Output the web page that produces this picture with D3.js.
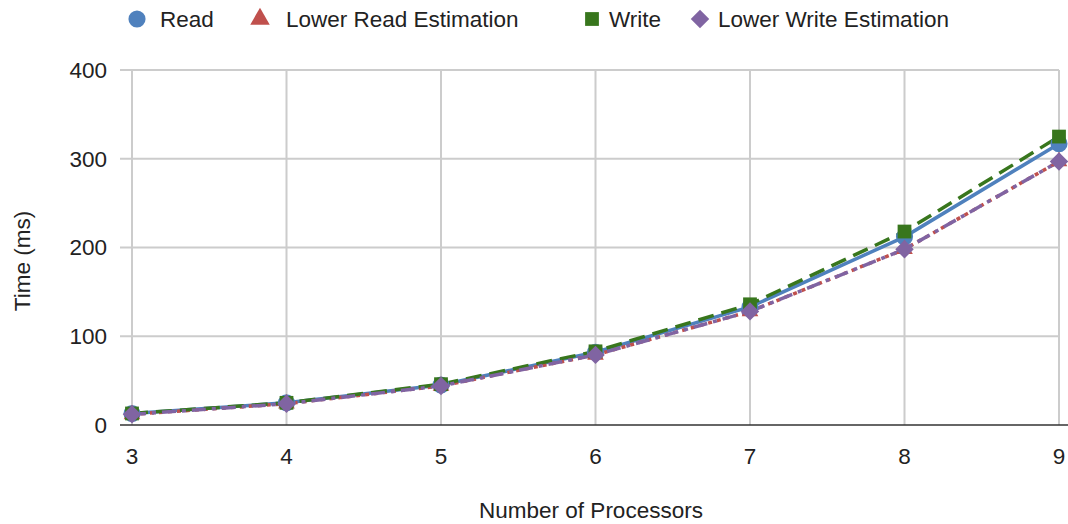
<!DOCTYPE html>
<html>
<head>
<meta charset="utf-8">
<script src="https://cdn.jsdelivr.net/npm/d3@7"></script>
<style>
  body { margin: 0; background: #fff; }
  svg { font-family: "Liberation Sans", Arial, sans-serif; }
</style>
</head>
<body>
<svg id="chart" width="1068" height="524"></svg>
<script>
// Processor counts on the x axis
const processors = [3, 4, 5, 6, 7, 8, 9];
// Measured and estimated times (ms)
const readTimes = [13, 25, 45, 82, 133, 212, 317];
const lowerReadEstimation = [12, 24, 44, 79, 128, 198, 297];
const writeTimes = [13, 25, 46, 83, 136, 218, 325];
const lowerWriteEstimation = [12, 24, 44, 79, 128, 198, 297];
const yTicks = [0, 100, 200, 300, 400];

const series = [
  { name: "Read", values: readTimes, color: "#4f81bd", dash: null, marker: "circle" },
  { name: "Lower Read Estimation", values: lowerReadEstimation, color: "#c0504d", dash: "4,5", marker: "triangle" },
  { name: "Write", values: writeTimes, color: "#38761d", dash: "16,8", marker: "square" },
  { name: "Lower Write Estimation", values: lowerWriteEstimation, color: "#8064a2", dash: "14,6,4,6", marker: "diamond" }
];

const svg = d3.select("#chart");
const plotLeft = 132, plotRight = 1059, plotTop = 70, plotBottom = 425;
const fontSize = 22.5;

const x = d3.scaleLinear().domain([3, 9]).range([plotLeft, plotRight]);
const y = d3.scaleLinear().domain([0, 400]).range([plotBottom, plotTop]);

// Gridlines, with short ticks to the left of the plot
const grid = svg.append("g");
grid.selectAll("line.h").data(yTicks.slice(1)).join("line")
  .attr("class", "h")
  .attr("x1", 120).attr("x2", plotRight)
  .attr("y1", d => y(d)).attr("y2", d => y(d))
  .attr("stroke", "#cccccc").attr("stroke-width", 2);
grid.selectAll("line.v").data(processors).join("line")
  .attr("class", "v")
  .attr("x1", d => x(d)).attr("x2", d => x(d))
  .attr("y1", plotTop).attr("y2", plotBottom)
  .attr("stroke", "#cccccc").attr("stroke-width", 2);

// Baseline
svg.append("line")
  .attr("x1", 120).attr("x2", 1068)
  .attr("y1", y(0)).attr("y2", y(0))
  .attr("stroke", "#333").attr("stroke-width", 1.5);

// Y tick labels
svg.append("g").selectAll("text").data(yTicks).join("text")
  .attr("x", 107).attr("y", d => y(d)).attr("dy", "0.35em")
  .attr("text-anchor", "end").attr("font-size", fontSize).attr("fill", "#222")
  .text(d => d);

// X tick labels
svg.append("g").selectAll("text").data(processors).join("text")
  .attr("x", d => x(d)).attr("y", 456).attr("dy", "0.35em")
  .attr("text-anchor", "middle").attr("font-size", fontSize).attr("fill", "#222")
  .text(d => d);

// Axis titles
svg.append("text").attr("x", 591).attr("y", 510).attr("dy", "0.35em")
  .attr("text-anchor", "middle").attr("font-size", fontSize).attr("fill", "#222")
  .text("Number of Processors");
svg.append("text").attr("transform", "translate(22,261) rotate(-90)").attr("dy", "0.35em")
  .attr("text-anchor", "middle").attr("font-size", fontSize).attr("fill", "#222")
  .text("Time (ms)");

// Marker shapes; the diamond is a square turned by 45 degrees
const symbolFor = {
  circle: { path: d3.symbol(d3.symbolCircle, 230)(), rotate: 0 },
  triangle: { path: d3.symbol(d3.symbolTriangle, 120)(), rotate: 0 },
  square: { path: d3.symbol(d3.symbolSquare, 190)(), rotate: 0 },
  diamond: { path: d3.symbol(d3.symbolSquare, 170)(), rotate: 45 }
};
const legendTriangle = d3.symbol(d3.symbolTriangle, 165)();

const line = d3.line().x((d, i) => x(processors[i])).y(d => y(d));

// Lines
series.forEach(s => {
  svg.append("path").datum(s.values)
    .attr("d", line).attr("fill", "none")
    .attr("stroke", s.color).attr("stroke-width", 3.5)
    .attr("stroke-dasharray", s.dash);
});

// Markers
series.forEach(s => {
  const sym = symbolFor[s.marker];
  svg.append("g").selectAll("path").data(s.values).join("path")
    .attr("transform", (d, j) => `translate(${x(processors[j])},${y(d)}) rotate(${sym.rotate})`)
    .attr("d", sym.path)
    .attr("fill", s.color);
});

// Legend
const legendItems = [
  { s: series[0], mx: 137, tx: 160 },
  { s: series[1], mx: 260, tx: 286 },
  { s: series[2], mx: 592, tx: 609 },
  { s: series[3], mx: 700, tx: 718 }
];
const legend = svg.append("g");
legendItems.forEach(it => {
  const sym = symbolFor[it.s.marker];
  legend.append("path")
    .attr("transform", `translate(${it.mx},19) rotate(${sym.rotate})`)
    .attr("d", it.s.marker === "triangle" ? legendTriangle : sym.path)
    .attr("fill", it.s.color);
  legend.append("text").attr("x", it.tx).attr("y", 19).attr("dy", "0.35em")
    .attr("font-size", fontSize).attr("fill", "#222").text(it.s.name);
});
</script>
</body>
</html>
